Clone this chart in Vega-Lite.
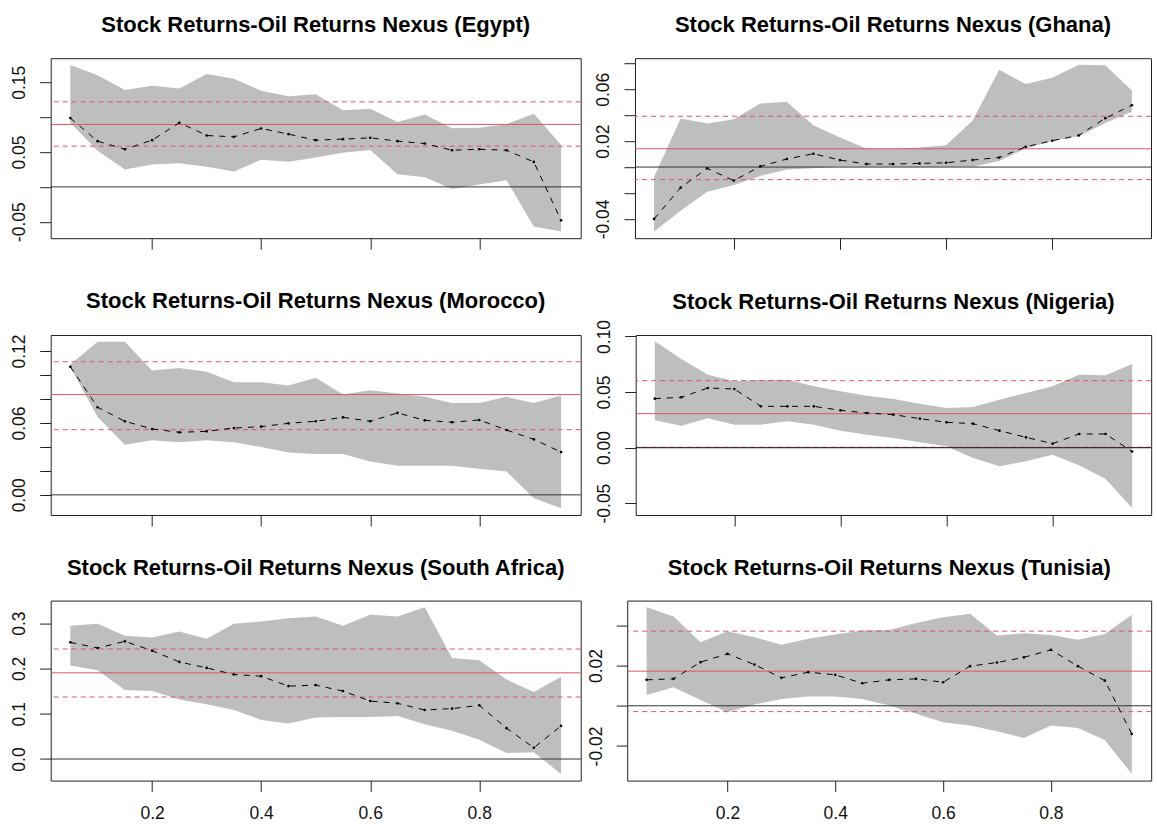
{
"$schema": "https://vega.github.io/schema/vega-lite/v6.json",
"autosize": {"type": "pad"},
"padding": {"left": 9.7, "top": 13.2, "right": 4, "bottom": 4},
"background": "white",
"datasets": {
"q": [
{"c":"Egypt","tau":0.05,"est":0.0987,"lo":0.092,"hi":0.175},
{"c":"Egypt","tau":0.10,"est":0.0656,"lo":0.052,"hi":0.160},
{"c":"Egypt","tau":0.15,"est":0.054,"lo":0.025,"hi":0.139},
{"c":"Egypt","tau":0.20,"est":0.067,"lo":0.032,"hi":0.145},
{"c":"Egypt","tau":0.25,"est":0.092,"lo":0.034,"hi":0.141},
{"c":"Egypt","tau":0.30,"est":0.0737,"lo":0.029,"hi":0.162},
{"c":"Egypt","tau":0.35,"est":0.0718,"lo":0.022,"hi":0.155},
{"c":"Egypt","tau":0.40,"est":0.0838,"lo":0.039,"hi":0.138},
{"c":"Egypt","tau":0.45,"est":0.0757,"lo":0.036,"hi":0.130},
{"c":"Egypt","tau":0.50,"est":0.067,"lo":0.042,"hi":0.133},
{"c":"Egypt","tau":0.55,"est":0.0685,"lo":0.049,"hi":0.110},
{"c":"Egypt","tau":0.60,"est":0.0704,"lo":0.053,"hi":0.112},
{"c":"Egypt","tau":0.65,"est":0.0656,"lo":0.018,"hi":0.093},
{"c":"Egypt","tau":0.70,"est":0.0622,"lo":0.014,"hi":0.104},
{"c":"Egypt","tau":0.75,"est":0.0526,"lo":-0.003,"hi":0.084},
{"c":"Egypt","tau":0.80,"est":0.054,"lo":0.0035,"hi":0.085},
{"c":"Egypt","tau":0.85,"est":0.0526,"lo":0.0095,"hi":0.090},
{"c":"Egypt","tau":0.90,"est":0.0358,"lo":-0.057,"hi":0.105},
{"c":"Egypt","tau":0.95,"est":-0.048,"lo":-0.064,"hi":0.060},
{"c":"Ghana","tau":0.05,"est":-0.040,"lo":-0.0497,"hi":-0.0074},
{"c":"Ghana","tau":0.10,"est":-0.0159,"lo":-0.0338,"hi":0.0374},
{"c":"Ghana","tau":0.15,"est":-0.0010,"lo":-0.019,"hi":0.0336},
{"c":"Ghana","tau":0.20,"est":-0.0105,"lo":-0.0138,"hi":0.0369},
{"c":"Ghana","tau":0.25,"est":0.0005,"lo":-0.0069,"hi":0.049},
{"c":"Ghana","tau":0.30,"est":0.0062,"lo":-0.0018,"hi":0.0503},
{"c":"Ghana","tau":0.35,"est":0.0103,"lo":-0.001,"hi":0.0323},
{"c":"Ghana","tau":0.40,"est":0.0054,"lo":0.0005,"hi":0.0228},
{"c":"Ghana","tau":0.45,"est":0.0023,"lo":0.0003,"hi":0.0144},
{"c":"Ghana","tau":0.50,"est":0.0023,"lo":0.0003,"hi":0.0144},
{"c":"Ghana","tau":0.55,"est":0.0028,"lo":0.0003,"hi":0.0151},
{"c":"Ghana","tau":0.60,"est":0.0033,"lo":0.0003,"hi":0.0169},
{"c":"Ghana","tau":0.65,"est":0.0054,"lo":0.0003,"hi":0.036},
{"c":"Ghana","tau":0.70,"est":0.0074,"lo":0.0046,"hi":0.075},
{"c":"Ghana","tau":0.75,"est":0.0156,"lo":0.0144,"hi":0.064},
{"c":"Ghana","tau":0.80,"est":0.0203,"lo":0.0203,"hi":0.069},
{"c":"Ghana","tau":0.85,"est":0.0244,"lo":0.0238,"hi":0.079},
{"c":"Ghana","tau":0.90,"est":0.0377,"lo":0.034,"hi":0.0785},
{"c":"Ghana","tau":0.95,"est":0.0477,"lo":0.0426,"hi":0.059},
{"c":"Morocco","tau":0.05,"est":0.1069,"lo":0.1066,"hi":0.1088},
{"c":"Morocco","tau":0.10,"est":0.0731,"lo":0.065,"hi":0.1278},
{"c":"Morocco","tau":0.15,"est":0.0614,"lo":0.0419,"hi":0.1278},
{"c":"Morocco","tau":0.20,"est":0.055,"lo":0.0455,"hi":0.1038},
{"c":"Morocco","tau":0.25,"est":0.0522,"lo":0.0438,"hi":0.1058},
{"c":"Morocco","tau":0.30,"est":0.053,"lo":0.0455,"hi":0.1027},
{"c":"Morocco","tau":0.35,"est":0.0558,"lo":0.0438,"hi":0.094},
{"c":"Morocco","tau":0.40,"est":0.0569,"lo":0.0399,"hi":0.094},
{"c":"Morocco","tau":0.45,"est":0.0597,"lo":0.0354,"hi":0.0912},
{"c":"Morocco","tau":0.50,"est":0.0614,"lo":0.034,"hi":0.0977},
{"c":"Morocco","tau":0.55,"est":0.0647,"lo":0.034,"hi":0.0837},
{"c":"Morocco","tau":0.60,"est":0.0614,"lo":0.0279,"hi":0.0873},
{"c":"Morocco","tau":0.65,"est":0.0684,"lo":0.0243,"hi":0.0846},
{"c":"Morocco","tau":0.70,"est":0.0622,"lo":0.0243,"hi":0.0818},
{"c":"Morocco","tau":0.75,"est":0.0606,"lo":0.0243,"hi":0.0767},
{"c":"Morocco","tau":0.80,"est":0.0625,"lo":0.0218,"hi":0.0767},
{"c":"Morocco","tau":0.85,"est":0.0541,"lo":0.0195,"hi":0.0818},
{"c":"Morocco","tau":0.90,"est":0.0463,"lo":-0.0028,"hi":0.0767},
{"c":"Morocco","tau":0.95,"est":0.0357,"lo":-0.0112,"hi":0.0829},
{"c":"Nigeria","tau":0.05,"est":0.044,"lo":0.0245,"hi":0.0956},
{"c":"Nigeria","tau":0.10,"est":0.0452,"lo":0.0197,"hi":0.0797},
{"c":"Nigeria","tau":0.15,"est":0.0536,"lo":0.0263,"hi":0.0656},
{"c":"Nigeria","tau":0.20,"est":0.0527,"lo":0.0206,"hi":0.0596},
{"c":"Nigeria","tau":0.25,"est":0.0371,"lo":0.0206,"hi":0.0611},
{"c":"Nigeria","tau":0.30,"est":0.0371,"lo":0.0236,"hi":0.0611},
{"c":"Nigeria","tau":0.35,"est":0.0371,"lo":0.0206,"hi":0.0551},
{"c":"Nigeria","tau":0.40,"est":0.0335,"lo":0.0152,"hi":0.0506},
{"c":"Nigeria","tau":0.45,"est":0.0311,"lo":0.0116,"hi":0.0467},
{"c":"Nigeria","tau":0.50,"est":0.0296,"lo":0.0086,"hi":0.0437},
{"c":"Nigeria","tau":0.55,"est":0.026,"lo":0.0047,"hi":0.0395},
{"c":"Nigeria","tau":0.60,"est":0.0227,"lo":0.0011,"hi":0.0356},
{"c":"Nigeria","tau":0.65,"est":0.0215,"lo":-0.0094,"hi":0.0365},
{"c":"Nigeria","tau":0.70,"est":0.0152,"lo":-0.0169,"hi":0.0431},
{"c":"Nigeria","tau":0.75,"est":0.0092,"lo":-0.0124,"hi":0.0491},
{"c":"Nigeria","tau":0.80,"est":0.0035,"lo":-0.0064,"hi":0.0551},
{"c":"Nigeria","tau":0.85,"est":0.0122,"lo":-0.016,"hi":0.0656},
{"c":"Nigeria","tau":0.90,"est":0.0122,"lo":-0.0283,"hi":0.065},
{"c":"Nigeria","tau":0.95,"est":-0.0036,"lo":-0.0544,"hi":0.0752},
{"c":"South Africa","tau":0.05,"est":0.2576,"lo":0.2064,"hi":0.2941},
{"c":"South Africa","tau":0.10,"est":0.2451,"lo":0.1961,"hi":0.2985},
{"c":"South Africa","tau":0.15,"est":0.2598,"lo":0.1522,"hi":0.2722},
{"c":"South Africa","tau":0.20,"est":0.2393,"lo":0.15,"hi":0.2685},
{"c":"South Africa","tau":0.25,"est":0.2144,"lo":0.1317,"hi":0.2817},
{"c":"South Africa","tau":0.30,"est":0.2012,"lo":0.1208,"hi":0.2656},
{"c":"South Africa","tau":0.35,"est":0.1866,"lo":0.1083,"hi":0.2985},
{"c":"South Africa","tau":0.40,"est":0.1829,"lo":0.0864,"hi":0.3037},
{"c":"South Africa","tau":0.45,"est":0.161,"lo":0.0783,"hi":0.311},
{"c":"South Africa","tau":0.50,"est":0.1632,"lo":0.0915,"hi":0.3146},
{"c":"South Africa","tau":0.55,"est":0.15,"lo":0.093,"hi":0.2941},
{"c":"South Africa","tau":0.60,"est":0.1281,"lo":0.093,"hi":0.3183},
{"c":"South Africa","tau":0.65,"est":0.123,"lo":0.0952,"hi":0.3146},
{"c":"South Africa","tau":0.70,"est":0.1083,"lo":0.0769,"hi":0.3351},
{"c":"South Africa","tau":0.75,"est":0.1113,"lo":0.0622,"hi":0.2232},
{"c":"South Africa","tau":0.80,"est":0.1186,"lo":0.0425,"hi":0.2181},
{"c":"South Africa","tau":0.85,"est":0.0681,"lo":0.0132,"hi":0.1756},
{"c":"South Africa","tau":0.90,"est":0.0249,"lo":0.0147,"hi":0.1478},
{"c":"South Africa","tau":0.95,"est":0.0732,"lo":-0.0329,"hi":0.1815},
{"c":"Tunisia","tau":0.05,"est":0.0129,"lo":0.0054,"hi":0.049},
{"c":"Tunisia","tau":0.10,"est":0.0134,"lo":0.0092,"hi":0.0444},
{"c":"Tunisia","tau":0.15,"est":0.0217,"lo":0.0029,"hi":0.0316},
{"c":"Tunisia","tau":0.20,"est":0.0258,"lo":-0.0032,"hi":0.0371},
{"c":"Tunisia","tau":0.25,"est":0.0205,"lo":0.0006,"hi":0.0341},
{"c":"Tunisia","tau":0.30,"est":0.0139,"lo":0.0034,"hi":0.0303},
{"c":"Tunisia","tau":0.35,"est":0.0167,"lo":0.0046,"hi":0.0333},
{"c":"Tunisia","tau":0.40,"est":0.0154,"lo":0.0046,"hi":0.0354},
{"c":"Tunisia","tau":0.45,"est":0.0112,"lo":0.0034,"hi":0.0374},
{"c":"Tunisia","tau":0.50,"est":0.0129,"lo":0.0001,"hi":0.0377},
{"c":"Tunisia","tau":0.55,"est":0.0134,"lo":-0.004,"hi":0.0411},
{"c":"Tunisia","tau":0.60,"est":0.0117,"lo":-0.0082,"hi":0.044},
{"c":"Tunisia","tau":0.65,"est":0.0197,"lo":-0.0098,"hi":0.0457},
{"c":"Tunisia","tau":0.70,"est":0.0215,"lo":-0.0127,"hi":0.0349},
{"c":"Tunisia","tau":0.75,"est":0.0241,"lo":-0.016,"hi":0.0361},
{"c":"Tunisia","tau":0.80,"est":0.0278,"lo":-0.0098,"hi":0.0352},
{"c":"Tunisia","tau":0.85,"est":0.0197,"lo":-0.011,"hi":0.0328},
{"c":"Tunisia","tau":0.90,"est":0.0125,"lo":-0.017,"hi":0.0357},
{"c":"Tunisia","tau":0.95,"est":-0.014,"lo":-0.0339,"hi":0.0452}
],
"r": [
{"c":"Egypt","k":"ols","v":0.0896},{"c":"Egypt","k":"ci","v":0.122},{"c":"Egypt","k":"ci","v":0.0584},{"c":"Egypt","k":"zero","v":0},
{"c":"Ghana","k":"ols","v":0.0141},{"c":"Ghana","k":"ci","v":0.0392},{"c":"Ghana","k":"ci","v":-0.0097},{"c":"Ghana","k":"zero","v":0},
{"c":"Morocco","k":"ols","v":0.0837},{"c":"Morocco","k":"ci","v":0.1111},{"c":"Morocco","k":"ci","v":0.0544},{"c":"Morocco","k":"zero","v":0},
{"c":"Nigeria","k":"ols","v":0.0305},{"c":"Nigeria","k":"ci","v":0.0602},{"c":"Nigeria","k":"ci","v":0.0003},{"c":"Nigeria","k":"zero","v":0},
{"c":"South Africa","k":"ols","v":0.1903},{"c":"South Africa","k":"ci","v":0.2429},{"c":"South Africa","k":"ci","v":0.1369},{"c":"South Africa","k":"zero","v":0},
{"c":"Tunisia","k":"ols","v":0.0172},{"c":"Tunisia","k":"ci","v":0.0371},{"c":"Tunisia","k":"ci","v":-0.0029},{"c":"Tunisia","k":"zero","v":0}
]
},
"config": {
"view": {"stroke": "#222", "strokeWidth": 1},
"axis": {"domain": false, "grid": false, "tickColor": "#222", "tickSize": 11, "tickWidth": 1, "labelFont": "Liberation Sans", "labelFontSize": 17.5, "labelColor": "#111", "labelOverlap": false},
"axisY": {"labelAngle": 270, "labelAlign": "center", "labelBaseline": "alphabetic", "labelPadding": 15},
"axisX": {"labelAngle": 0, "labelAlign": "center", "labelBaseline": "alphabetic", "labelPadding": 27},
"title": {"font": "Liberation Sans", "fontSize": 22, "fontWeight": "bold", "color": "#000", "offset": 20.8, "baseline": "alphabetic", "anchor": "middle"}
},
"spacing": 38.8,
"vconcat": [
{"bounds": "flush", "spacing": 54.3, "hconcat": [
{"width": 530, "height": 180, "title": {"text": "Stock Returns-Oil Returns Nexus (Egypt)"},
"layer": [
{"data": {"name": "q"}, "transform": [{"filter": "datum.c == 'Egypt'"}], "mark": {"type": "area", "color": "#BEBEBE", "opacity": 1},
"encoding": {"x": {"field": "tau", "type": "quantitative", "scale": {"domain": [0.014, 0.986], "nice": false, "zero": false}, "axis": {"values": [0.2, 0.4, 0.6, 0.8], "tickCount": 20, "labels": false, "title": null}},
"y": {"field": "lo", "type": "quantitative", "scale": {"domain": [-0.0736, 0.1846], "nice": false, "zero": false}, "axis": {"values": [-0.05, 0, 0.05, 0.1, 0.15], "tickCount": 20, "format": ".2f", "labelExpr": "datum.value == 0 || datum.value == 0.1 ? '' : replace(datum.label, '−', '-')", "title": null}},
"y2": {"field": "hi"}}},
{"data": {"name": "r"}, "transform": [{"filter": "datum.c == 'Egypt' && datum.k == 'ci'"}], "mark": {"type": "rule", "color": "#DF536B", "strokeDash": [5, 4], "strokeWidth": 1}, "encoding": {"y": {"field": "v", "type": "quantitative"}}},
{"data": {"name": "r"}, "transform": [{"filter": "datum.c == 'Egypt' && datum.k == 'ols'"}], "mark": {"type": "rule", "color": "#DF536B", "strokeWidth": 1}, "encoding": {"y": {"field": "v", "type": "quantitative"}}},
{"data": {"name": "r"}, "transform": [{"filter": "datum.c == 'Egypt' && datum.k == 'zero'"}], "mark": {"type": "rule", "color": "#333", "strokeWidth": 1}, "encoding": {"y": {"field": "v", "type": "quantitative"}}},
{"data": {"name": "q"}, "transform": [{"filter": "datum.c == 'Egypt'"}], "mark": {"type": "line", "color": "#000", "strokeWidth": 1, "strokeDash": [6, 6]}, "encoding": {"x": {"field": "tau", "type": "quantitative"}, "y": {"field": "est", "type": "quantitative"}}},
{"data": {"name": "q"}, "transform": [{"filter": "datum.c == 'Egypt'"}], "mark": {"type": "circle", "color": "#000", "size": 7, "opacity": 1}, "encoding": {"x": {"field": "tau", "type": "quantitative"}, "y": {"field": "est", "type": "quantitative"}}}
]},
{"width": 516, "height": 180, "title": {"text": "Stock Returns-Oil Returns Nexus (Ghana)"},
"layer": [
{"data": {"name": "q"}, "transform": [{"filter": "datum.c == 'Ghana'"}], "mark": {"type": "area", "color": "#BEBEBE", "opacity": 1},
"encoding": {"x": {"field": "tau", "type": "quantitative", "scale": {"domain": [0.014, 0.986], "nice": false, "zero": false}, "axis": {"values": [0.2, 0.4, 0.6, 0.8], "tickCount": 20, "labels": false, "title": null}},
"y": {"field": "lo", "type": "quantitative", "scale": {"domain": [-0.0549, 0.0840], "nice": false, "zero": false}, "axis": {"values": [-0.04, -0.02, 0, 0.02, 0.04, 0.06, 0.08], "tickCount": 20, "format": ".2f", "labelExpr": "datum.value == -0.04 || datum.value == 0.02 || datum.value == 0.06 ? replace(datum.label, '−', '-') : ''", "title": null}},
"y2": {"field": "hi"}}},
{"data": {"name": "r"}, "transform": [{"filter": "datum.c == 'Ghana' && datum.k == 'ci'"}], "mark": {"type": "rule", "color": "#DF536B", "strokeDash": [5, 4], "strokeWidth": 1}, "encoding": {"y": {"field": "v", "type": "quantitative"}}},
{"data": {"name": "r"}, "transform": [{"filter": "datum.c == 'Ghana' && datum.k == 'ols'"}], "mark": {"type": "rule", "color": "#DF536B", "strokeWidth": 1}, "encoding": {"y": {"field": "v", "type": "quantitative"}}},
{"data": {"name": "r"}, "transform": [{"filter": "datum.c == 'Ghana' && datum.k == 'zero'"}], "mark": {"type": "rule", "color": "#333", "strokeWidth": 1}, "encoding": {"y": {"field": "v", "type": "quantitative"}}},
{"data": {"name": "q"}, "transform": [{"filter": "datum.c == 'Ghana'"}], "mark": {"type": "line", "color": "#000", "strokeWidth": 1, "strokeDash": [6, 6]}, "encoding": {"x": {"field": "tau", "type": "quantitative"}, "y": {"field": "est", "type": "quantitative"}}},
{"data": {"name": "q"}, "transform": [{"filter": "datum.c == 'Ghana'"}], "mark": {"type": "circle", "color": "#000", "size": 7, "opacity": 1}, "encoding": {"x": {"field": "tau", "type": "quantitative"}, "y": {"field": "est", "type": "quantitative"}}}
]}
]},
{"spacing": 28.6, "vconcat": [
{"bounds": "flush", "spacing": 55, "hconcat": [
{"width": 530, "height": 180, "title": {"text": "Stock Returns-Oil Returns Nexus (Morocco)"},
"layer": [
{"data": {"name": "q"}, "transform": [{"filter": "datum.c == 'Morocco'"}], "mark": {"type": "area", "color": "#BEBEBE", "opacity": 1},
"encoding": {"x": {"field": "tau", "type": "quantitative", "scale": {"domain": [0.014, 0.986], "nice": false, "zero": false}, "axis": {"values": [0.2, 0.4, 0.6, 0.8], "tickCount": 20, "labels": false, "title": null}},
"y": {"field": "lo", "type": "quantitative", "scale": {"domain": [-0.0168, 0.1334], "nice": false, "zero": false}, "axis": {"values": [0, 0.02, 0.04, 0.06, 0.08, 0.1, 0.12], "tickCount": 20, "format": ".2f", "labelExpr": "datum.value == 0 || datum.value == 0.06 || datum.value == 0.12 ? datum.label : ''", "title": null}},
"y2": {"field": "hi"}}},
{"data": {"name": "r"}, "transform": [{"filter": "datum.c == 'Morocco' && datum.k == 'ci'"}], "mark": {"type": "rule", "color": "#DF536B", "strokeDash": [5, 4], "strokeWidth": 1}, "encoding": {"y": {"field": "v", "type": "quantitative"}}},
{"data": {"name": "r"}, "transform": [{"filter": "datum.c == 'Morocco' && datum.k == 'ols'"}], "mark": {"type": "rule", "color": "#DF536B", "strokeWidth": 1}, "encoding": {"y": {"field": "v", "type": "quantitative"}}},
{"data": {"name": "r"}, "transform": [{"filter": "datum.c == 'Morocco' && datum.k == 'zero'"}], "mark": {"type": "rule", "color": "#333", "strokeWidth": 1}, "encoding": {"y": {"field": "v", "type": "quantitative"}}},
{"data": {"name": "q"}, "transform": [{"filter": "datum.c == 'Morocco'"}], "mark": {"type": "line", "color": "#000", "strokeWidth": 1, "strokeDash": [6, 6]}, "encoding": {"x": {"field": "tau", "type": "quantitative"}, "y": {"field": "est", "type": "quantitative"}}},
{"data": {"name": "q"}, "transform": [{"filter": "datum.c == 'Morocco'"}], "mark": {"type": "circle", "color": "#000", "size": 7, "opacity": 1}, "encoding": {"x": {"field": "tau", "type": "quantitative"}, "y": {"field": "est", "type": "quantitative"}}}
]},
{"width": 515.5, "height": 180, "title": {"text": "Stock Returns-Oil Returns Nexus (Nigeria)", "offset": 5.5},
"layer": [
{"data": {"name": "q"}, "transform": [{"filter": "datum.c == 'Nigeria'"}], "mark": {"type": "area", "color": "#BEBEBE", "opacity": 1},
"encoding": {"x": {"field": "tau", "type": "quantitative", "scale": {"domain": [0.014, 0.986], "nice": false, "zero": false}, "axis": {"values": [0.2, 0.4, 0.6, 0.8], "tickCount": 20, "labels": false, "title": null}},
"y": {"field": "lo", "type": "quantitative", "scale": {"domain": [-0.0607, 0.1013], "nice": false, "zero": false}, "axis": {"values": [-0.05, 0, 0.05, 0.1], "tickCount": 20, "format": ".2f", "labelExpr": "replace(datum.label, '−', '-')", "title": null}},
"y2": {"field": "hi"}}},
{"data": {"name": "r"}, "transform": [{"filter": "datum.c == 'Nigeria' && datum.k == 'ci'"}], "mark": {"type": "rule", "color": "#DF536B", "strokeDash": [5, 4], "strokeWidth": 1}, "encoding": {"y": {"field": "v", "type": "quantitative"}}},
{"data": {"name": "r"}, "transform": [{"filter": "datum.c == 'Nigeria' && datum.k == 'ols'"}], "mark": {"type": "rule", "color": "#DF536B", "strokeWidth": 1}, "encoding": {"y": {"field": "v", "type": "quantitative"}}},
{"data": {"name": "r"}, "transform": [{"filter": "datum.c == 'Nigeria' && datum.k == 'zero'"}], "mark": {"type": "rule", "color": "#333", "strokeWidth": 1.3}, "encoding": {"y": {"field": "v", "type": "quantitative"}}},
{"data": {"name": "q"}, "transform": [{"filter": "datum.c == 'Nigeria'"}], "mark": {"type": "line", "color": "#000", "strokeWidth": 1, "strokeDash": [6, 6]}, "encoding": {"x": {"field": "tau", "type": "quantitative"}, "y": {"field": "est", "type": "quantitative"}}},
{"data": {"name": "q"}, "transform": [{"filter": "datum.c == 'Nigeria'"}], "mark": {"type": "circle", "color": "#000", "size": 7, "opacity": 1}, "encoding": {"x": {"field": "tau", "type": "quantitative"}, "y": {"field": "est", "type": "quantitative"}}}
]}
]},
{"bounds": "flush", "spacing": 46.5, "hconcat": [
{"width": 530, "height": 180, "title": {"text": "Stock Returns-Oil Returns Nexus (South Africa)"},
"layer": [
{"data": {"name": "q"}, "transform": [{"filter": "datum.c == 'South Africa'"}], "mark": {"type": "area", "color": "#BEBEBE", "opacity": 1},
"encoding": {"x": {"field": "tau", "type": "quantitative", "scale": {"domain": [0.014, 0.986], "nice": false, "zero": false}, "axis": {"values": [0.2, 0.4, 0.6, 0.8], "tickCount": 20, "format": ".1f", "title": null}},
"y": {"field": "lo", "type": "quantitative", "scale": {"domain": [-0.0476, 0.3498], "nice": false, "zero": false}, "axis": {"values": [0, 0.1, 0.2, 0.3], "tickCount": 20, "format": ".1f", "title": null}},
"y2": {"field": "hi"}}},
{"data": {"name": "r"}, "transform": [{"filter": "datum.c == 'South Africa' && datum.k == 'ci'"}], "mark": {"type": "rule", "color": "#DF536B", "strokeDash": [5, 4], "strokeWidth": 1}, "encoding": {"y": {"field": "v", "type": "quantitative"}}},
{"data": {"name": "r"}, "transform": [{"filter": "datum.c == 'South Africa' && datum.k == 'ols'"}], "mark": {"type": "rule", "color": "#DF536B", "strokeWidth": 1}, "encoding": {"y": {"field": "v", "type": "quantitative"}}},
{"data": {"name": "r"}, "transform": [{"filter": "datum.c == 'South Africa' && datum.k == 'zero'"}], "mark": {"type": "rule", "color": "#333", "strokeWidth": 1}, "encoding": {"y": {"field": "v", "type": "quantitative"}}},
{"data": {"name": "q"}, "transform": [{"filter": "datum.c == 'South Africa'"}], "mark": {"type": "line", "color": "#000", "strokeWidth": 1, "strokeDash": [6, 6]}, "encoding": {"x": {"field": "tau", "type": "quantitative"}, "y": {"field": "est", "type": "quantitative"}}},
{"data": {"name": "q"}, "transform": [{"filter": "datum.c == 'South Africa'"}], "mark": {"type": "circle", "color": "#000", "size": 7, "opacity": 1}, "encoding": {"x": {"field": "tau", "type": "quantitative"}, "y": {"field": "est", "type": "quantitative"}}}
]},
{"width": 524, "height": 180, "title": {"text": "Stock Returns-Oil Returns Nexus (Tunisia)"},
"layer": [
{"data": {"name": "q"}, "transform": [{"filter": "datum.c == 'Tunisia'"}], "mark": {"type": "area", "color": "#BEBEBE", "opacity": 1},
"encoding": {"x": {"field": "tau", "type": "quantitative", "scale": {"domain": [0.014, 0.986], "nice": false, "zero": false}, "axis": {"values": [0.2, 0.4, 0.6, 0.8], "tickCount": 20, "format": ".1f", "title": null}},
"y": {"field": "lo", "type": "quantitative", "scale": {"domain": [-0.0372, 0.0523], "nice": false, "zero": false}, "axis": {"values": [-0.02, 0, 0.02, 0.04], "tickCount": 20, "format": ".2f", "labelExpr": "datum.value == -0.02 || datum.value == 0.02 ? replace(datum.label, '−', '-') : ''", "title": null}},
"y2": {"field": "hi"}}},
{"data": {"name": "r"}, "transform": [{"filter": "datum.c == 'Tunisia' && datum.k == 'ci'"}], "mark": {"type": "rule", "color": "#DF536B", "strokeDash": [5, 4], "strokeWidth": 1}, "encoding": {"y": {"field": "v", "type": "quantitative"}}},
{"data": {"name": "r"}, "transform": [{"filter": "datum.c == 'Tunisia' && datum.k == 'ols'"}], "mark": {"type": "rule", "color": "#DF536B", "strokeWidth": 1}, "encoding": {"y": {"field": "v", "type": "quantitative"}}},
{"data": {"name": "r"}, "transform": [{"filter": "datum.c == 'Tunisia' && datum.k == 'zero'"}], "mark": {"type": "rule", "color": "#333", "strokeWidth": 1}, "encoding": {"y": {"field": "v", "type": "quantitative"}}},
{"data": {"name": "q"}, "transform": [{"filter": "datum.c == 'Tunisia'"}], "mark": {"type": "line", "color": "#000", "strokeWidth": 1, "strokeDash": [6, 6]}, "encoding": {"x": {"field": "tau", "type": "quantitative"}, "y": {"field": "est", "type": "quantitative"}}},
{"data": {"name": "q"}, "transform": [{"filter": "datum.c == 'Tunisia'"}], "mark": {"type": "circle", "color": "#000", "size": 7, "opacity": 1}, "encoding": {"x": {"field": "tau", "type": "quantitative"}, "y": {"field": "est", "type": "quantitative"}}}
]}
]}
]}
]
}
